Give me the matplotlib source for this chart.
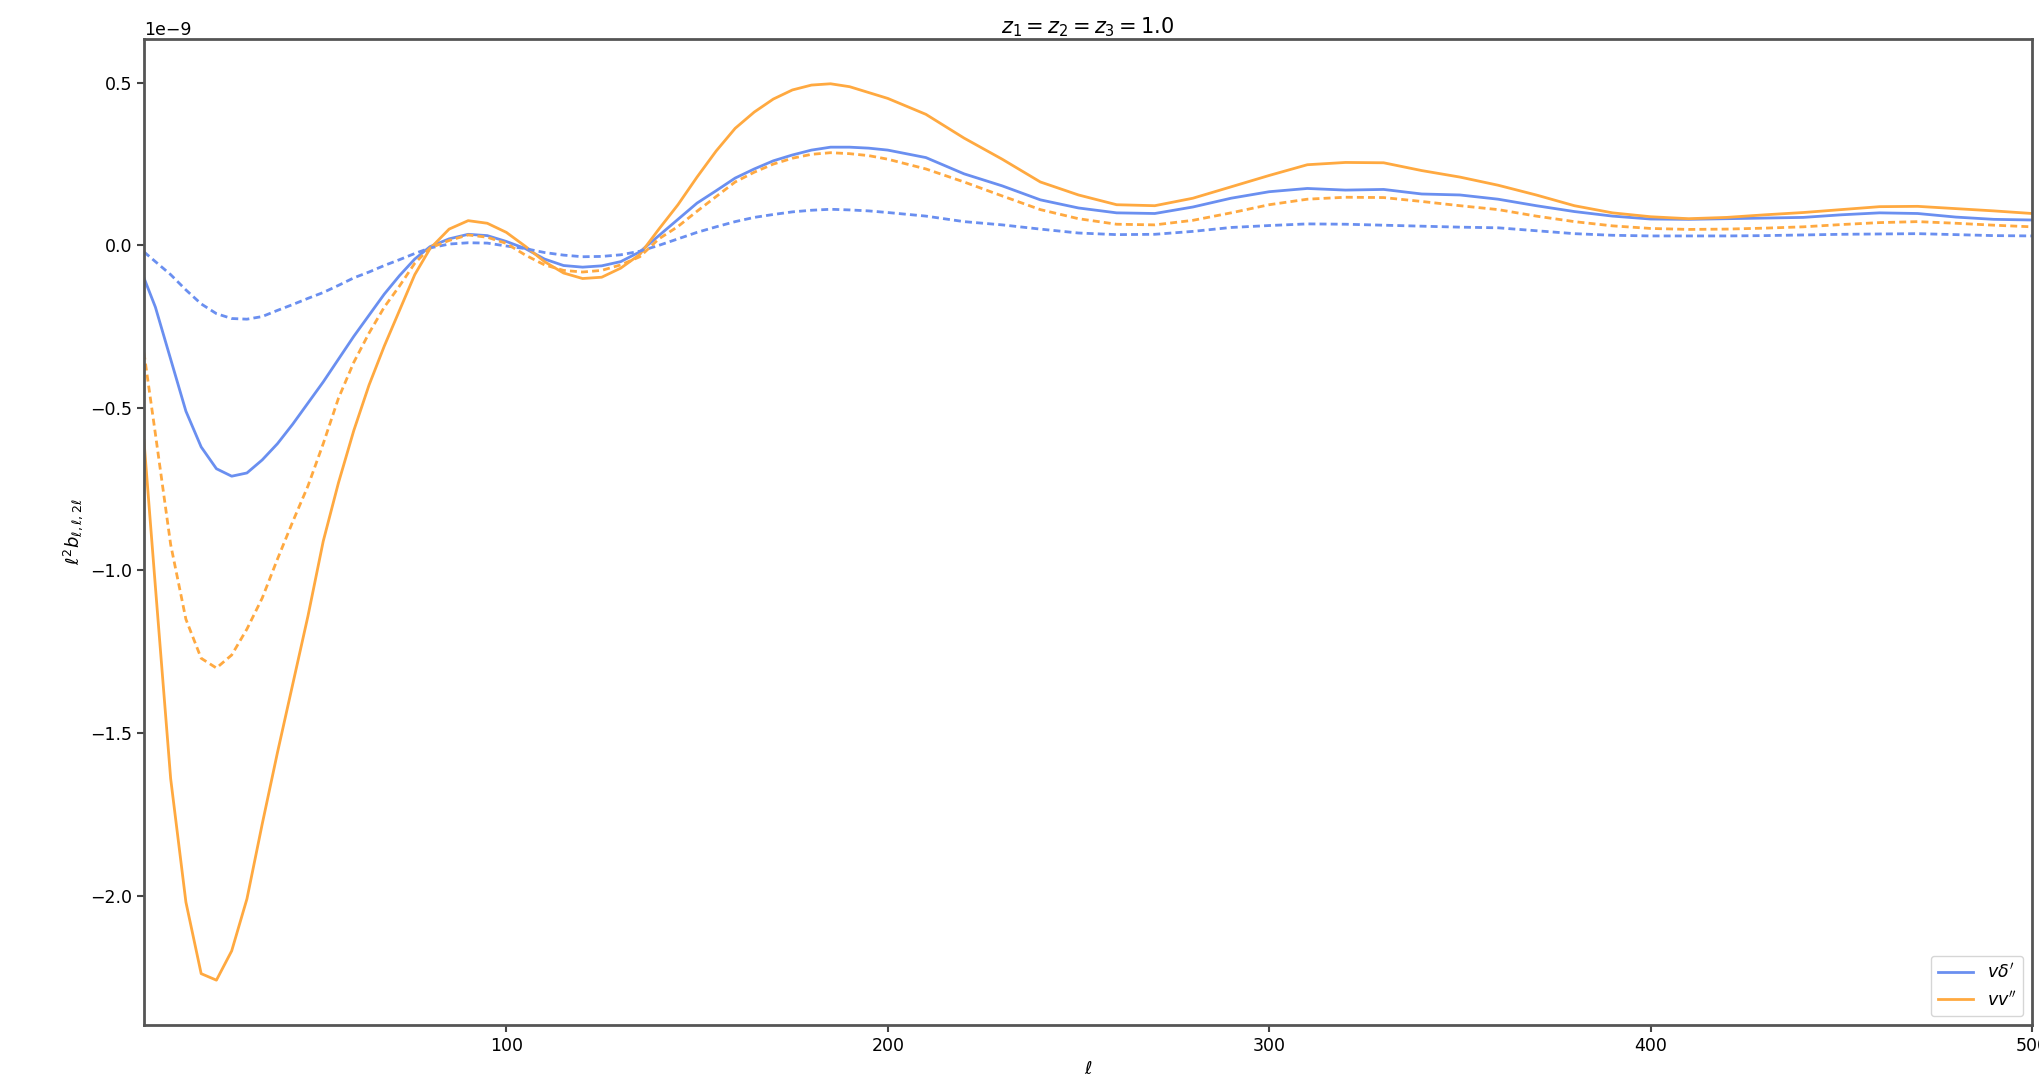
import numpy as np
import matplotlib.pyplot as plt

# multipole grid
ell = [5, 8, 12, 16, 20, 24, 28, 32, 36, 40, 44, 48, 52, 56, 60, 64, 68, 72, 76, 80,
       85, 90, 95, 100, 105, 110, 115, 120, 125, 130, 135, 140, 145, 150, 155, 160,
       165, 170, 175, 180, 185, 190, 195, 200, 210, 220, 230, 240, 250, 260, 270,
       280, 290, 300, 310, 320, 330, 340, 350, 360, 370, 380, 390, 400, 410, 420,
       430, 440, 450, 460, 470, 480, 490, 500]

# v delta' , solid
vd_solid = [-0.10, -0.19, -0.35, -0.51, -0.62, -0.687, -0.71, -0.70, -0.66, -0.61,
            -0.55, -0.485, -0.42, -0.35, -0.28, -0.215, -0.15, -0.093, -0.042, -0.004,
            0.02, 0.034, 0.03, 0.012, -0.01, -0.042, -0.062, -0.067, -0.063, -0.05,
            -0.02, 0.03, 0.08, 0.13, 0.168, 0.207, 0.235, 0.26, 0.278, 0.293,
            0.302, 0.302, 0.299, 0.293, 0.27, 0.22, 0.183, 0.14, 0.115, 0.10, 0.098,
            0.118, 0.145, 0.165, 0.175, 0.17, 0.172, 0.158, 0.155, 0.142, 0.122,
            0.104, 0.09, 0.081, 0.08, 0.082, 0.084, 0.086, 0.094, 0.10, 0.098,
            0.087, 0.08, 0.078]
# v delta' , dashed
vd_dash = [-0.02, -0.05, -0.09, -0.137, -0.18, -0.21, -0.225, -0.227, -0.219, -0.20,
           -0.182, -0.163, -0.145, -0.123, -0.10, -0.082, -0.062, -0.044, -0.025, -0.008,
           0.004, 0.008, 0.007, -0.002, -0.01, -0.022, -0.03, -0.035, -0.034, -0.029,
           -0.018, 0.0, 0.02, 0.04, 0.057, 0.073, 0.086, 0.095, 0.103, 0.108,
           0.111, 0.109, 0.106, 0.101, 0.09, 0.073, 0.063, 0.05, 0.038, 0.033, 0.034,
           0.043, 0.055, 0.061, 0.066, 0.065, 0.062, 0.059, 0.056, 0.054, 0.045,
           0.036, 0.031, 0.029, 0.029, 0.029, 0.03, 0.032, 0.034, 0.035, 0.036,
           0.033, 0.03, 0.029]
# v v'' , solid
vv_solid = [-0.60, -1.05, -1.64, -2.02, -2.24, -2.26, -2.17, -2.01, -1.78, -1.56,
            -1.35, -1.14, -0.91, -0.73, -0.57, -0.43, -0.31, -0.20, -0.09, -0.01,
            0.05, 0.076, 0.068, 0.04, -0.003, -0.05, -0.085, -0.102, -0.098, -0.07,
            -0.028, 0.05, 0.125, 0.21, 0.29, 0.36, 0.41, 0.45, 0.478, 0.493,
            0.497, 0.488, 0.47, 0.452, 0.403, 0.33, 0.265, 0.195, 0.155, 0.125, 0.122,
            0.145, 0.18, 0.215, 0.248, 0.255, 0.254, 0.23, 0.21, 0.185, 0.155,
            0.122, 0.10, 0.088, 0.082, 0.086, 0.094, 0.101, 0.11, 0.119, 0.12,
            0.113, 0.106, 0.098]
# v v'' , dashed
vv_dash = [-0.33, -0.58, -0.92, -1.15, -1.27, -1.30, -1.26, -1.18, -1.085, -0.965,
           -0.85, -0.74, -0.61, -0.47, -0.36, -0.27, -0.19, -0.125, -0.055, -0.008,
           0.015, 0.032, 0.025, 0.006, -0.03, -0.06, -0.077, -0.082, -0.077, -0.06,
           -0.035, 0.02, 0.058, 0.105, 0.15, 0.195, 0.225, 0.25, 0.268, 0.28,
           0.285, 0.282, 0.276, 0.265, 0.235, 0.195, 0.152, 0.11, 0.082, 0.065, 0.063,
           0.077, 0.10, 0.125, 0.142, 0.148, 0.147, 0.135, 0.122, 0.11, 0.09,
           0.073, 0.06, 0.052, 0.049, 0.05, 0.053, 0.057, 0.064, 0.07, 0.073,
           0.068, 0.062, 0.057]

scale = 1e-9
c_blue = '#6a8ff0'
c_orange = '#ffa940'

fig = plt.figure(figsize=(20.39, 10.82), dpi=100, facecolor='white')
ax = fig.add_axes([0.0706, 0.0527, 0.926, 0.9113])

ell = np.array(ell)
ax.plot(ell, np.array(vd_solid) * scale, '-', c=c_blue, lw=2, label=r"$v\delta'$")
ax.plot(ell, np.array(vv_solid) * scale, '-', c=c_orange, lw=2, label=r"$vv''$")
ax.plot(ell, np.array(vd_dash) * scale, '--', c=c_blue, lw=2, dashes=(2.5, 1.5))
ax.plot(ell, np.array(vv_dash) * scale, '--', c=c_orange, lw=2, dashes=(2.5, 1.5))

ax.set_xlim(5, 500)
ax.set_title(r'$z_1 = z_2 = z_3 = 1.0$', fontsize=15, pad=4)
ax.set_xlabel(r'$\ell$', fontsize=13)
ax.set_ylabel(r'$\ell^2 b_{\ell,\ell,2\ell}$', fontsize=13)
ax.tick_params(labelsize=12.5, width=1.5, length=5, color='#444444')
ax.yaxis.get_offset_text().set_fontsize(12.5)
for sp in ax.spines.values():
    sp.set_linewidth(2)
    sp.set_color('#555555')
ax.legend(loc='lower right', fontsize=12.5)

fig.savefig('out.png', dpi=100, facecolor='white')
